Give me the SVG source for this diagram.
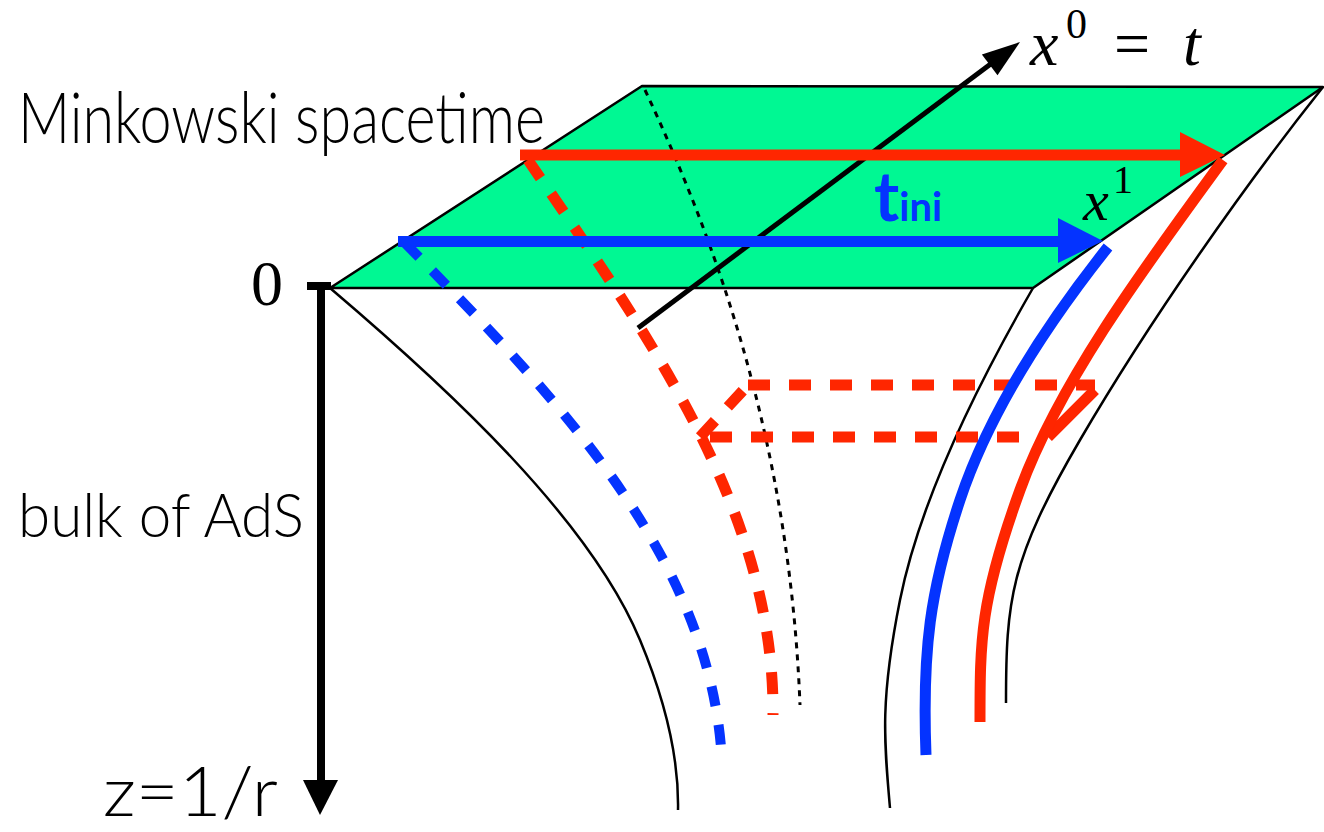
<svg xmlns="http://www.w3.org/2000/svg" width="1324" height="832" viewBox="0 0 1324 832">
<style>
.thin{fill:none;stroke:#000;stroke-width:2.5}
.rd{fill:none;stroke:#FF2600;stroke-width:11;stroke-dasharray:22 19}
.bd{fill:none;stroke:#0433FF;stroke-width:10;stroke-dasharray:20 19}
.rs{fill:none;stroke:#FF2600;stroke-width:11}
.bs{fill:none;stroke:#0433FF;stroke-width:11}
.gs{font-family:Lato,"Open Sans","Liberation Sans",sans-serif;font-weight:300;fill:#000}
.math{font-family:"Liberation Serif","DejaVu Serif",serif;fill:#000}
</style>
<rect width="1324" height="832" fill="#fff"/>
<g id="boundary">
<polygon points="330,288 642,86 1323,87 1033,288" fill="#00F893" stroke="#000" stroke-width="2.5" stroke-linejoin="round"/>
</g>
<g id="surfaces">
<path class="thin" d="M330,288 C450,390 590,520 640,640 C665,700 679,760 678,810"/>
<path class="thin" d="M1033,288 C980,380 920,500 900,600 S884,740 890,808"/>
<path class="thin" d="M1323,87 C1245,185 1150,320 1080,440 S1006,600 1006,703"/>
<path fill="none" stroke="#000" stroke-width="3" stroke-dasharray="6 6" d="M645,90 C720,250 790,450 800,705"/>
</g>
<g id="connectors">
<path class="bd" d="M405,243 C560,400 712,560 722,762"/>
<path class="rd" d="M528,160 C645,330 775,510 773,715"/>
<path class="rd" d="M748,385 L1095,385"/>
<path class="rd" d="M700,437 L748,385"/>
<path class="rd" d="M710,437 L1035,437"/>
<path class="rs" d="M1095,390 L1048,437"/>
<path class="bs" d="M1108,247 C1050,320 990,410 960,500 S922,650 926,755"/>
<path class="rs" d="M1223,160 C1150,260 1060,380 1020,490 S980,640 980,722"/>
</g>
<g id="x0-axis">
<line x1="638" y1="328" x2="992" y2="63" stroke="#000" stroke-width="5"/>
<polygon points="1020,42 997.5,75.3 981.9,54.5" fill="#000"/>
<text class="math" font-style="italic" font-size="64" x="1030" y="65">x</text>
<text class="math" font-size="42" x="1066" y="38">0</text>
<text class="math" font-size="64" x="1114" y="65">=</text>
<text class="math" font-style="italic" font-size="64" x="1183" y="65">t</text>
</g>
<g id="red-arrow">
<line x1="520" y1="155" x2="1184" y2="155" stroke="#FF2600" stroke-width="11"/>
<polygon points="1180,132 1225,155 1180,177" fill="#FF2600"/>
</g>
<g id="blue-arrow">
<line x1="398" y1="241.5" x2="1062" y2="241.5" stroke="#0433FF" stroke-width="11"/>
<polygon points="1058,218 1103,241 1058,263" fill="#0433FF"/>
<text font-family="Lato,'Open Sans',sans-serif" font-weight="700" fill="#0433FF" x="874" y="221" font-size="68">t<tspan font-size="40">ini</tspan></text>
</g>
<g id="x1-label">
<text class="math" font-style="italic" font-size="58" x="1083" y="220">x</text>
<text class="math" font-size="40" x="1113" y="193">1</text>
</g>
<g id="z-axis">
<line x1="307" y1="286" x2="331" y2="286" stroke="#000" stroke-width="8"/>
<line x1="321" y1="286" x2="321" y2="782" stroke="#000" stroke-width="8"/>
<polygon points="303,780 338,780 320,815" fill="#000"/>
<text class="math" font-size="64" x="251" y="305">0</text>
</g>
<g id="labels">
<text class="gs" font-size="70" x="18" y="143" textLength="527" lengthAdjust="spacingAndGlyphs">Minkowski spacetime</text>
<text class="gs" font-size="61" x="18" y="537" textLength="286" lengthAdjust="spacingAndGlyphs">bulk of AdS</text>
<text class="gs" font-size="68" x="103" y="816" textLength="175" lengthAdjust="spacingAndGlyphs">z=1/r</text>
</g>
</svg>
